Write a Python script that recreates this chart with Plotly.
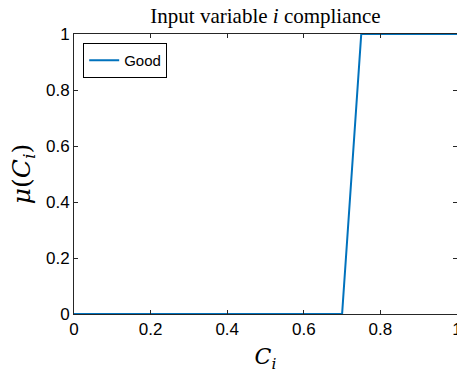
import plotly.graph_objects as go

x_vals = [0.0, 0.7, 0.75, 1.0]
y_vals = [0.0, 0.0, 1.0, 1.0]
x_ticks = [0, 0.2, 0.4, 0.6, 0.8, 1]
x_tick_labels = ["0", "0.2", "0.4", "0.6", "0.8", "1"]
y_ticks = [0, 0.2, 0.4, 0.6, 0.8, 1]
y_tick_labels = ["0", "0.2", "0.4", "0.6", "0.8", "1"]

W, H = 457, 373
ml, mr, mt, mb = 74, 0, 34, 59

fig = go.Figure()
fig.add_trace(go.Scatter(x=x_vals, y=y_vals, mode="lines", name="Good",
                         line=dict(color="#0072BD", width=2), cliponaxis=False))

axcol = "#262626"
fig.update_layout(
    width=W, height=H,
    margin=dict(l=ml, r=mr, t=mt, b=mb, autoexpand=False),
    paper_bgcolor="white", plot_bgcolor="white",
    font=dict(family="Liberation Sans, Arial, sans-serif", size=17, color="black"),
    title=dict(text="Input variable <i>i</i> compliance",
               font=dict(family="Liberation Serif, DejaVu Serif, serif", size=21, color="black"),
               x=(ml + (W - ml) / 2) / W, xanchor="center", y=1 - 16 / H, yanchor="middle"),
    showlegend=True,
    legend=dict(x=0.024, y=0.968, xanchor="left", yanchor="top",
                bordercolor="black", borderwidth=1, bgcolor="white",
                font=dict(family="Liberation Sans, Arial, sans-serif", size=15, color="black"),
                itemwidth=30, tracegroupgap=0),
    xaxis=dict(range=[0, 1], tickvals=x_ticks, ticktext=x_tick_labels,
               showgrid=False, zeroline=False, showline=True, linecolor=axcol, linewidth=1,
               mirror="ticks", ticks="inside", ticklen=4, tickcolor=axcol,
               tickfont=dict(size=17, color="black"), automargin=False,
               ticklabeloverflow="allow",
               title=dict(text="<i>C<sub>i</sub></i>",
                          font=dict(family="DejaVu Serif, Liberation Serif, serif", size=22, color="black"),
                          standoff=10)),
    yaxis=dict(range=[0, 1], tickvals=y_ticks, ticktext=y_tick_labels,
               showgrid=False, zeroline=False, showline=True, linecolor=axcol, linewidth=1,
               mirror="ticks", ticks="inside", ticklen=4, tickcolor=axcol,
               tickfont=dict(size=17, color="black"), automargin=False,
               ticklabeloverflow="allow",
               title=dict(text="<i>μ</i>(<i>C<sub>i</sub></i>)",
                          font=dict(family="DejaVu Serif, Liberation Serif, serif", size=25, color="black"),
                          standoff=8)),
)

fig.write_html("out.html")
